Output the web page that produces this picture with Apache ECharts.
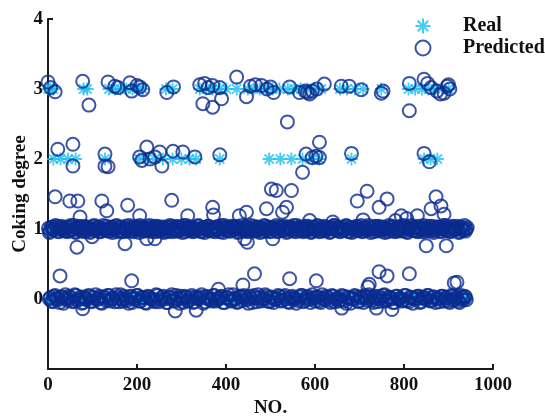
<!DOCTYPE html>
<html>
<head>
<meta charset="utf-8">
<script src="https://cdn.jsdelivr.net/npm/echarts@6/dist/echarts.min.js"></script>
<style>
html,body{margin:0;padding:0;background:#fff;overflow:hidden;}
#chart{width:545px;height:418px;}
</style>
</head>
<body>
<div id="chart"></div>
<script>
// ---- tick labels ----
const xTicks = [0, 200, 400, 600, 800, 1000];
const yTicks = [0, 1, 2, 3, 4];

// ---- Real class positions (sample NO.) ----
const real3 = [0,5,12,80,88,137,150,163,176,190,204,213,265,280,341,355,370,386,401,424,449,462,476,490,505,520,539,553,568,583,598,614,656,672,690,708,749,810,825,840,855,870,885,900];
const real2 = [12,28,45,62,128,205,220,240,258,280,300,318,333,386,497,522,547,572,594,610,682,845,860,875];

// ---- Predicted values around class 3 and 2 [NO., value] ----
const pred3 = [[0,3.10],[6,3.02],[16,2.96],[78,3.11],[92,2.77],[135,3.10],[150,3.04],[157,3.02],[184,3.09],[188,2.97],[200,3.05],[206,3.03],[213,2.99],[267,2.95],[282,3.03],[341,3.06],[352,3.08],[360,3.02],[370,3.05],[386,3.02],[348,2.79],[370,2.74],[390,2.86],[424,3.17],[446,2.89],[455,3.04],[466,3.06],[480,3.05],[492,3.00],[500,3.03],[507,2.95],[543,3.03],[565,2.95],[578,2.97],[583,2.95],[588,2.93],[594,2.97],[604,3.00],[621,3.07],[659,3.04],[677,3.04],[704,2.99],[749,2.94],[753,2.97],[812,3.08],[812,2.69],[845,3.14],[853,3.08],[861,3.02],[874,2.97],[882,2.93],[890,2.94],[897,3.04],[900,3.06],[903,3.00]];
const pred2 = [[22,2.14],[56,2.21],[56,1.90],[128,2.07],[128,1.90],[135,1.89],[206,2.03],[211,1.98],[222,2.17],[229,2.00],[240,2.03],[251,2.10],[256,1.90],[281,2.11],[303,2.10],[330,2.03],[386,2.06],[538,2.53],[572,1.81],[580,2.07],[594,2.02],[602,2.04],[610,2.24],[610,2.02],[682,2.08],[845,2.08],[857,1.96]];

// ---- Predicted outliers for class 1 and class 0 ----
const out1 = [[16,1.46],[49,1.40],[67,1.40],[121,1.40],[132,1.26],[179,1.34],[278,1.41],[72,1.17],[206,1.19],[314,1.19],[370,1.31],[372,1.20],[430,1.19],[446,1.24],[491,1.29],[502,1.57],[513,1.55],[527,1.24],[536,1.31],[547,1.55],[588,1.12],[640,1.10],[695,1.40],[708,1.13],[717,1.54],[744,1.31],[762,1.43],[781,1.12],[794,1.19],[806,1.15],[830,1.19],[861,1.29],[872,1.46],[883,1.33],[890,1.21],[65,0.74],[99,0.89],[173,0.79],[222,0.86],[240,0.86],[442,0.86],[448,0.81],[505,0.86],[850,0.76],[895,0.76]];
const out0 = [[27,0.33],[188,0.26],[383,0.14],[438,0.20],[464,0.36],[543,0.29],[603,0.26],[719,0.17],[722,0.21],[744,0.39],[762,0.33],[812,0.36],[913,0.23],[919,0.24],[78,-0.14],[286,-0.17],[333,-0.16],[660,-0.13],[738,-0.13],[773,-0.15]];

// ---- Predicted values for class 1 samples [NO., value] ----
const band1 = [[1,1.01],[5,0.97],[10,1.03],[14,0.99],[19,1.04],[24,0.96],[28,1.02],[33,1.00],[37,0.97],[42,1.03],
[46,0.98],[51,1.05],[56,0.99],[60,0.96],[65,1.02],[69,1.04],[74,0.98],[78,1.01],[83,0.96],[88,1.03],
[92,1.00],[97,0.97],[101,1.04],[106,0.99],[111,1.02],[115,0.96],[120,1.01],[124,1.05],[129,0.98],[133,1.00],
[138,0.97],[143,1.03],[147,0.99],[152,1.04],[156,0.96],[161,1.02],[166,0.98],[170,1.01],[175,1.04],[179,0.97],
[184,1.00],[189,1.03],[193,0.96],[198,1.02],[202,0.99],[207,1.05],[212,0.97],[216,1.01],[221,0.98],[225,1.03],
[230,1.00],[235,0.96],[239,1.04],[244,0.99],[248,1.02],[253,0.97],[258,1.03],[262,1.00],[267,0.96],[271,1.02],
[276,1.04],[281,0.98],[285,1.01],[290,0.97],[294,1.03],[299,0.99],[304,1.05],[308,0.96],[313,1.00],[317,1.03],
[322,0.98],[327,1.02],[331,0.97],[336,1.04],[340,1.00],[345,0.96],[350,1.02],[354,0.99],[359,1.04],[363,0.97],
[368,1.01],[373,0.98],[377,1.03],[382,1.00],[386,0.96],[391,1.02],[396,1.05],[400,0.98],[405,1.01],[409,0.97],
[414,1.03],[419,0.99],[423,1.04],[428,0.96],[432,1.02],[437,1.00],[442,0.97],[446,1.03],[451,0.99],[455,1.05],
[460,0.97],[465,1.01],[469,0.98],[474,1.03],[478,1.00],[483,0.96],[488,1.04],[492,0.99],[497,1.02],[501,0.97],
[506,1.03],[511,1.00],[515,0.96],[520,1.02],[524,1.04],[529,0.98],[534,1.01],[538,0.97],[543,1.03],[547,0.99],
[552,1.05],[557,0.96],[561,1.00],[566,1.03],[570,0.98],[575,1.02],[580,0.97],[584,1.04],[589,1.00],[593,0.96],
[598,1.02],[603,0.99],[607,1.04],[612,0.97],[616,1.01],[621,0.98],[626,1.03],[630,1.00],[635,0.96],[639,1.02],
[644,1.05],[649,0.98],[653,1.01],[658,0.97],[662,1.03],[667,0.99],[672,1.04],[676,0.96],[681,1.02],[685,1.00],
[690,0.97],[695,1.03],[699,0.99],[704,1.05],[708,0.97],[713,1.01],[718,0.98],[722,1.03],[727,1.00],[731,0.96],
[736,1.04],[741,0.99],[745,1.02],[750,0.97],[754,1.03],[759,1.00],[764,0.96],[768,1.02],[773,1.04],[777,0.98],
[782,1.01],[787,0.97],[791,1.03],[796,0.99],[800,1.05],[805,0.96],[810,1.00],[814,1.03],[819,0.98],[823,1.02],
[828,0.97],[833,1.04],[837,1.00],[842,0.96],[846,1.02],[851,0.99],[856,1.04],[860,0.97],[865,1.01],[869,0.98],
[874,1.03],[879,1.00],[883,0.96],[888,1.02],[892,1.05],[897,0.98],[902,1.01],[906,0.97],[911,1.03],[915,0.99],
[920,1.04],[925,0.96],[929,1.02],[934,1.00],[938,0.97],[942,1.02]];
const band1b = [[3,0.95],[7,1.02],[12,0.99],[17,1.05],[21,0.97],[26,1.01],[30,1.04],[35,0.98],[40,1.00],[44,0.96],
[49,1.03],[53,0.99],[58,1.05],[63,0.95],[67,1.01],[72,1.03],[76,0.97],[81,1.04],[86,0.99],[90,1.02],
[95,0.95],[99,1.00],[104,1.05],[109,0.98],[113,1.03],[118,0.96],[122,1.01],[127,0.99],[131,1.04],[136,0.97],
[141,1.02],[145,0.95],[150,1.00],[154,1.05],[159,0.98],[164,1.03],[168,0.96],[173,1.01],[177,0.99],[182,1.05],
[187,0.97],[191,1.02],[196,0.99],[200,1.04],[205,0.95],[210,1.01],[214,1.03],[219,0.97],[223,1.00],[228,1.05],
[233,0.98],[237,1.02],[242,0.96],[246,1.04],[251,0.99],[256,1.01],[260,0.95],[265,1.03],[269,0.98],[274,1.05],
[279,0.96],[283,1.00],[288,1.04],[292,0.97],[297,1.02],[302,0.95],[306,1.01],[311,1.05],[315,0.98],[320,1.03],
[325,0.96],[329,1.00],[334,0.99],[338,1.05],[343,0.97],[348,1.02],[352,0.95],[357,1.01],[361,1.04],[366,0.98],
[371,1.00],[375,0.96],[380,1.03],[384,0.99],[389,1.05],[394,0.95],[398,1.01],[403,1.03],[407,0.97],[412,1.04],
[417,0.99],[421,1.02],[426,0.95],[430,1.00],[435,1.05],[440,0.98],[444,1.03],[449,0.96],[453,1.01],[458,0.99],
[463,1.04],[467,0.97],[472,1.02],[476,0.95],[481,1.00],[486,1.05],[490,0.98],[495,1.03],[499,0.96],[504,1.01],
[509,0.99],[513,1.05],[518,0.97],[522,1.02],[527,0.99],[532,1.04],[536,0.95],[541,1.01],[545,1.03],[550,0.97],
[555,1.00],[559,1.05],[564,0.98],[568,1.02],[573,0.96],[578,1.04],[582,0.99],[587,1.01],[591,0.95],[596,1.03],
[601,0.98],[605,1.05],[610,0.96],[614,1.00],[619,1.04],[624,0.97],[628,1.02],[633,0.95],[637,1.01],[642,1.05],
[647,0.98],[651,1.03],[656,0.96],[660,1.00],[665,0.99],[670,1.05],[674,0.97],[679,1.02],[683,0.95],[688,1.01],
[693,1.04],[697,0.98],[702,1.00],[706,0.96],[711,1.03],[716,0.99],[720,1.05],[725,0.95],[729,1.01],[734,1.03],
[739,0.97],[743,1.04],[748,0.99],[752,1.02],[757,0.95],[762,1.00],[766,1.05],[771,0.98],[775,1.03],[780,0.96],
[785,1.01],[789,0.99],[794,1.04],[798,0.97],[803,1.02],[808,0.95],[812,1.00],[817,1.05],[821,0.98],[826,1.03],
[831,0.96],[835,1.01],[840,0.99],[844,1.05],[849,0.97],[854,1.02],[858,0.99],[863,1.04],[867,0.95],[872,1.01],
[877,1.03],[881,0.97],[886,1.00],[890,1.05],[895,0.98],[900,1.02],[904,0.96],[909,1.04],[913,0.99],[918,1.01],
[923,0.95],[927,1.03],[932,0.98],[936,1.05],[940,1.00]];

// ---- Predicted values for class 0 samples [NO., value] ----
const band0 = [[3,0.00],[8,-0.03],[13,0.04],[20,0.01],[26,-0.05],[31,0.03],[39,0.06],[44,-0.02],[50,0.02],[57,-0.04],
[63,0.05],[70,0.00],[76,-0.06],[81,0.03],[86,-0.01],[94,0.04],[100,-0.03],[107,0.06],[113,0.01],[118,-0.05],
[125,0.03],[131,-0.02],[137,0.05],[144,0.00],[150,-0.04],[157,0.02],[163,0.06],[168,-0.03],[174,0.01],[181,-0.06],
[186,0.04],[192,0.00],[199,0.05],[205,-0.03],[211,0.02],[218,-0.05],[224,0.04],[230,0.01],[237,-0.02],[243,0.06],
[249,-0.04],[256,0.02],[263,0.00],[269,-0.05],[275,0.03],[282,-0.02],[288,0.05],[295,-0.06],[301,0.01],[307,0.04],
[314,-0.03],[320,0.02],[326,-0.05],[332,0.03],[339,0.00],[345,0.06],[352,-0.04],[358,0.02],[364,-0.01],[371,0.05],
[377,-0.03],[384,0.01],[390,0.04],[397,-0.05],[403,0.02],[410,-0.02],[416,0.06],[421,0.00],[427,-0.04],[434,0.03],
[440,0.05],[447,-0.01],[453,0.04],[459,-0.05],[466,0.02],[472,0.06],[479,-0.03],[485,0.01],[491,0.04],[498,-0.04],
[504,0.02],[510,-0.01],[517,0.05],[523,-0.03],[530,0.03],[536,0.00],[542,-0.05],[549,0.04],[555,0.01],[562,-0.02],
[568,0.05],[574,-0.04],[581,0.02],[587,0.00],[594,0.06],[600,-0.03],[606,0.03],[613,-0.05],[619,0.01],[625,0.04],
[632,-0.02],[638,0.05],[645,-0.04],[651,0.02],[657,-0.01],[664,0.04],[670,-0.06],[676,0.02],[683,0.00],[689,0.05],
[696,-0.03],[702,0.03],[709,-0.05],[715,0.02],[721,0.06],[728,-0.02],[734,0.04],[740,-0.04],[747,0.01],[753,0.05],
[759,-0.03],[766,0.03],[772,0.00],[779,-0.05],[785,0.04],[791,0.01],[798,-0.02],[804,0.05],[811,-0.04],[817,0.02],
[823,0.00],[830,0.04],[836,-0.05],[842,0.02],[849,-0.01],[855,0.05],[861,-0.03],[868,0.03],[874,0.00],[880,-0.04],
[887,0.04],[893,0.01],[899,-0.03],[906,0.05],[912,-0.02],[918,0.03],[925,-0.05],[931,0.02],[936,0.04],[940,-0.01]];
const band0b = [[5,0.02],[11,-0.04],[16,0.05],[23,-0.01],[29,0.03],[35,-0.06],[41,0.01],[47,0.04],[54,-0.03],[60,0.06],
[66,-0.02],[73,0.03],[79,-0.05],[84,0.01],[91,0.05],[97,-0.04],[103,0.02],[110,-0.01],[116,0.04],[121,-0.06],
[128,0.02],[134,0.05],[140,-0.03],[147,0.01],[153,0.06],[160,-0.04],[166,0.00],[171,0.04],[178,-0.02],[184,0.03],
[189,-0.05],[196,0.01],[202,0.05],[208,-0.03],[215,0.02],[221,-0.06],[227,0.03],[234,0.00],[240,-0.04],[246,0.05],
[253,-0.01],[259,0.04],[266,-0.05],[272,0.02],[278,0.06],[285,-0.03],[291,0.01],[298,0.04],[304,-0.05],[310,0.02],
[317,-0.02],[323,0.05],[329,-0.04],[336,0.01],[342,0.03],[349,-0.06],[355,0.04],[361,0.00],[368,-0.03],[374,0.05],
[381,-0.01],[387,0.03],[393,-0.05],[400,0.02],[406,0.06],[413,-0.03],[419,0.01],[425,-0.05],[431,0.04],[437,-0.02],
[444,0.03],[450,-0.06],[456,0.01],[463,0.05],[469,-0.04],[475,0.02],[482,-0.01],[488,0.06],[495,-0.03],[501,0.03],
[507,-0.05],[514,0.01],[520,0.04],[527,-0.02],[533,0.05],[539,-0.04],[546,0.02],[552,0.00],[558,-0.06],[565,0.03],
[571,0.05],[578,-0.02],[584,0.04],[590,-0.05],[597,0.01],[603,0.03],[609,-0.03],[616,0.06],[622,-0.01],[629,0.02],
[635,-0.05],[641,0.04],[648,0.00],[654,-0.03],[660,0.05],[667,-0.02],[673,0.03],[680,-0.06],[686,0.01],[692,0.04],
[699,-0.04],[705,0.02],[712,0.05],[718,-0.02],[724,0.03],[731,-0.05],[737,0.01],[744,0.04],[750,-0.03],[756,0.06],
[763,-0.01],[769,0.02],[775,-0.05],[782,0.04],[788,0.00],[795,-0.03],[801,0.05],[807,-0.02],[814,0.03],[820,-0.06],
[827,0.01],[833,0.04],[839,-0.04],[846,0.02],[852,0.05],[858,-0.02],[865,0.03],[871,-0.05],[877,0.01],[884,0.04],
[890,-0.03],[896,0.02],[903,-0.05],[909,0.04],[915,0.00],[922,-0.03],[928,0.05],[933,-0.01],[938,0.03]];

// ---- build series data ----
const cls0 = [].concat(band0, band0b);
const cls1 = [].concat(band1, band1b);
const realData = []
  .concat(cls0.map(p => [p[0], 0]))
  .concat(cls1.map(p => [p[0], 1]))
  .concat(real2.map(x => [x, 2]))
  .concat(real3.map(x => [x, 3]));
const predData = [].concat(cls0, out0, cls1, out1, pred2, pred3);

const CYAN = '#17bff0';
const NAVY = '#0b2a8e';
const FONT = 'Liberation Serif';
const STAR = 'path://M10 0L10 20M0 10L20 10M3 3L17 17M3 17L17 3';

const chart = echarts.init(document.getElementById('chart'));
chart.setOption({
  animation: false,
  backgroundColor: '#fff',
  grid: {left: 48, right: 52, top: 19, bottom: 49, containLabel: false, outerBoundsMode: 'none'},
  legend: {
    orient: 'vertical', align: 'left',
    left: 414.5, top: 16, padding: 0,
    itemWidth: 70, itemHeight: 15, itemGap: 2,
    textStyle: {fontFamily: FONT, fontWeight: 'bold', fontSize: 20, color: '#111'},
    data: [
      {name: 'Real', icon: STAR, itemStyle: {color: CYAN, borderColor: CYAN, borderWidth: 2}},
      {name: 'Predicted', icon: 'circle', itemStyle: {color: 'rgba(0,0,0,0)', borderColor: NAVY, borderWidth: 2}}
    ]
  },
  xAxis: {
    type: 'value', min: 0, max: 1000, interval: 200,
    name: 'NO.', nameLocation: 'middle', nameGap: 30, nameMoveOverlap: false,
    nameTextStyle: {fontFamily: FONT, fontWeight: 'bold', fontSize: 19, color: '#111'},
    axisLine: {show: true, onZero: false, lineStyle: {color: '#1a1a1a', width: 2}},
    axisTick: {show: true, inside: true, length: 5, lineStyle: {color: '#1a1a1a', width: 2}},
    axisLabel: {fontFamily: FONT, fontWeight: 'bold', fontSize: 19, color: '#111', margin: 7,
      formatter: v => xTicks.includes(v) ? String(v) : ''},
    splitLine: {show: false}
  },
  yAxis: {
    type: 'value', min: -1, max: 4, interval: 1,
    name: 'Coking degree', nameLocation: 'middle', nameGap: 18, nameMoveOverlap: false,
    nameTextStyle: {fontFamily: FONT, fontWeight: 'bold', fontSize: 19, color: '#111'},
    axisLine: {show: true, onZero: false, lineStyle: {color: '#1a1a1a', width: 2}},
    axisTick: {show: true, inside: true, length: 5, lineStyle: {color: '#1a1a1a', width: 2}},
    axisLabel: {fontFamily: FONT, fontWeight: 'bold', fontSize: 19, color: '#111', margin: 5,
      formatter: v => yTicks.includes(v) ? String(v) : ''},
    splitLine: {show: false}
  },
  series: [
    {
      name: 'Real', type: 'scatter', data: realData,
      symbol: STAR, symbolSize: 13,
      itemStyle: {color: CYAN, borderColor: CYAN, borderWidth: 1.8},
      z: 2
    },
    {
      name: 'Predicted', type: 'scatter', data: predData,
      symbol: 'circle', symbolSize: 13,
      itemStyle: {color: 'rgba(0,0,0,0)', borderColor: NAVY, borderWidth: 2},
      z: 3
    }
  ]
});
</script>
</body>
</html>
